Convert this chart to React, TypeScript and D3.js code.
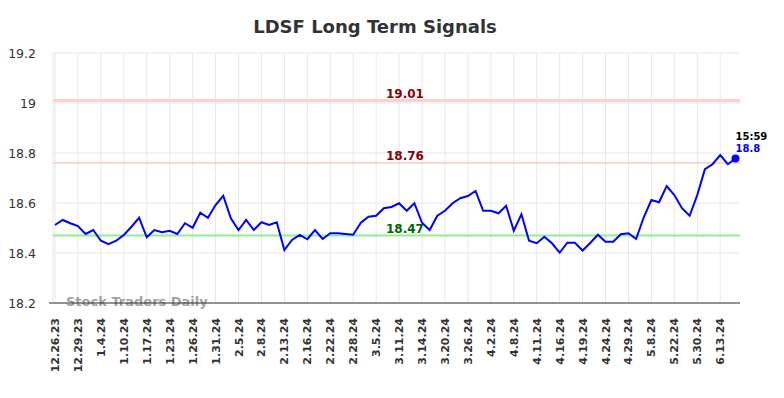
import React from 'react';
import * as d3 from 'd3';

// closing prices, one per trading day in the window
const prices = [
  18.512, 18.532, 18.519, 18.508, 18.476, 18.492, 18.449, 18.435, 18.449, 18.472,
  18.505, 18.541, 18.463, 18.492, 18.483, 18.489, 18.476, 18.519, 18.501, 18.561,
  18.541, 18.592, 18.629, 18.539, 18.492, 18.532, 18.492, 18.523, 18.512, 18.523,
  18.412, 18.452, 18.472, 18.455, 18.492, 18.456, 18.479, 18.479, 18.476, 18.473,
  18.521, 18.545, 18.549, 18.579, 18.584, 18.599, 18.569, 18.599, 18.521, 18.492,
  18.549, 18.569, 18.599, 18.619, 18.628, 18.648, 18.569, 18.569, 18.559, 18.589,
  18.489, 18.555, 18.449, 18.439, 18.465, 18.439, 18.401, 18.441, 18.441, 18.41,
  18.44, 18.473, 18.445, 18.445, 18.475, 18.479, 18.456, 18.543, 18.612, 18.603,
  18.668, 18.632, 18.579, 18.549, 18.632, 18.735, 18.755, 18.792, 18.755, 18.778
];

// a date label every third point
const dateLabels = [
  '12.26.23', '12.29.23', '1.4.24', '1.10.24', '1.17.24', '1.23.24', '1.26.24', '1.31.24',
  '2.5.24', '2.8.24', '2.13.24', '2.16.24', '2.22.24', '2.28.24', '3.5.24', '3.11.24',
  '3.14.24', '3.20.24', '3.26.24', '4.2.24', '4.8.24', '4.11.24', '4.16.24', '4.19.24',
  '4.24.24', '4.29.24', '5.8.24', '5.22.24', '5.30.24', '6.13.24'
];
const labelStep = 3;

const yTicks = [18.2, 18.4, 18.6, 18.8, 19, 19.2];

const signals = [
  { value: 19.01, color: '#8b0000', line: '#ffd0d0', width: 3 },
  { value: 18.76, color: '#8b0000', line: '#ffc8c8', width: 1.5 },
  { value: 18.47, color: '#006400', line: '#90ee90', width: 2 }
];

const lastTime = '15:59';
const lastLabel = '18.8';

const W = 784;
const H = 398;
const plot = { left: 53, right: 740, top: 53, bottom: 303 };
const font = '"DejaVu Sans", sans-serif';

export default function App() {
  const x = d3.scaleLinear().domain([0, prices.length - 1]).range([55, 735.5]);
  const y = d3.scaleLinear().domain([18.2, 19.2]).range([plot.bottom, plot.top]);

  const line = d3.line<number>()
    .x((_, i) => x(i))
    .y(d => y(d));

  const last = prices.length - 1;
  const midX = 405;

  return (
    <svg width={W} height={H} style={{ position: 'absolute', left: 0, top: 0 }} fontFamily={font}>
      <rect width={W} height={H} fill="white" />

      <text x={375} y={33} textAnchor="middle" fontSize={18} fontWeight="bold" fill="#333">
        LDSF Long Term Signals
      </text>

      {/* grid */}
      {yTicks.map(t => (
        <line key={t} x1={plot.left} x2={plot.right} y1={y(t)} y2={y(t)} stroke="#e8e8e8" />
      ))}
      {dateLabels.map((d, k) => (
        <line key={d} x1={x(k * labelStep)} x2={x(k * labelStep)} y1={plot.top} y2={plot.bottom} stroke="#e8e8e8" />
      ))}
      <line x1={plot.left} x2={plot.left} y1={plot.top} y2={plot.bottom} stroke="#e8e8e8" />

      {/* signal levels */}
      {signals.map(s => (
        <g key={s.value}>
          <line x1={plot.left} x2={plot.right} y1={y(s.value)} y2={y(s.value)} stroke={s.line} strokeWidth={s.width} />
          <text x={midX} y={y(s.value) - 3} textAnchor="middle" fontSize={12} fontWeight="bold" fill={s.color}>
            {s.value.toFixed(2)}
          </text>
        </g>
      ))}

      <text x={66} y={306} fontSize={13} fontWeight="bold" fill="#999" opacity={0.9}>
        Stock Traders Daily
      </text>

      {/* axes */}
      <line x1={plot.left} x2={plot.right} y1={plot.bottom} y2={plot.bottom} stroke="#333" />
      <line x1={plot.left - 4} x2={plot.left} y1={plot.bottom} y2={plot.bottom} stroke="#333" />
      {yTicks.map(t => (
        <text key={t} x={36} y={y(t) + 4.5} textAnchor="end" fontSize={12.5} fill="#333">
          {d3.format('')(t)}
        </text>
      ))}
      {dateLabels.map((d, k) => (
        <text
          key={d}
          transform={`translate(${x(k * labelStep) + 4},${318}) rotate(-90)`}
          textAnchor="end"
          fontSize={11}
          fontWeight="bold"
          fill="#333"
        >
          {d}
        </text>
      ))}

      {/* price */}
      <path d={line(prices) || ''} fill="none" stroke="#0000ff" strokeWidth={2} />
      <circle cx={x(last)} cy={y(prices[last])} r={4} fill="#0000ff" />
      <text x={x(last)} y={y(prices[last]) - 19} fontSize={10} fontWeight="bold" fill="#000">
        {lastTime}
      </text>
      <text x={x(last)} y={y(prices[last]) - 7} fontSize={10} fontWeight="bold" fill="#0000ff">
        {lastLabel}
      </text>
    </svg>
  );
}
